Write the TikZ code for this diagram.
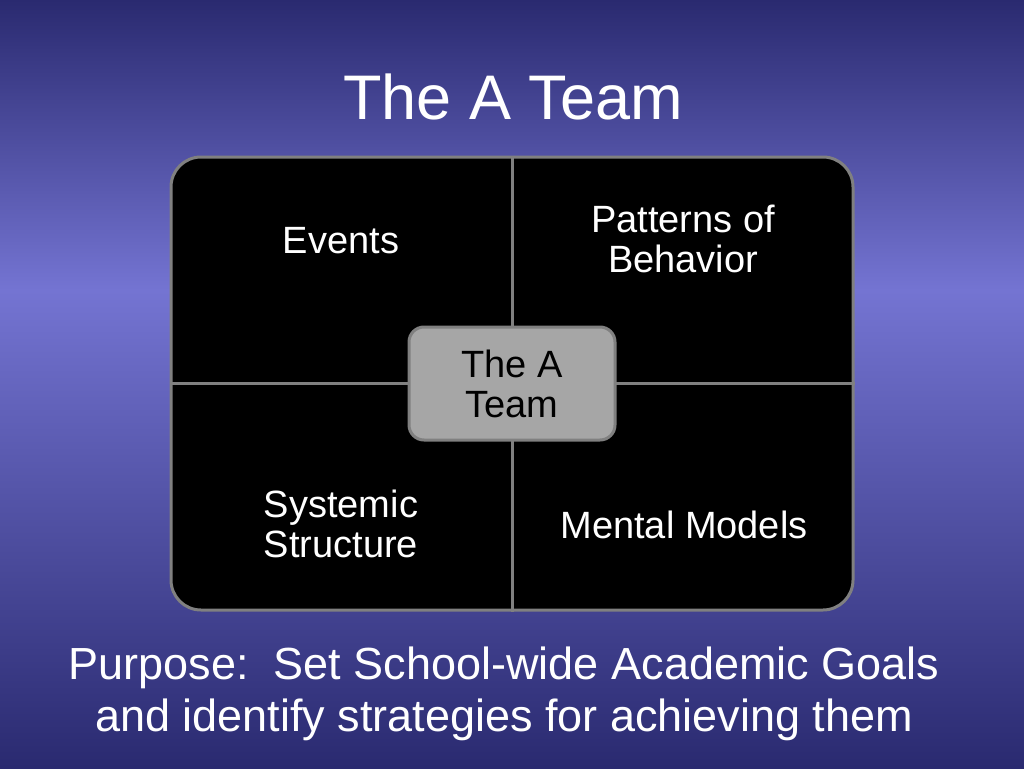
\documentclass[tikz,border=0pt]{standalone}
\usepackage{fontspec}
\setmainfont{Liberation Sans}
\definecolor{bgdark}{RGB}{42,42,112}
\definecolor{bglight}{RGB}{116,116,210}
\definecolor{edgegray}{RGB}{128,128,128}
\definecolor{boxgray}{RGB}{166,166,166}
\tikzset{
  quadtext/.style={text=white, align=center, inner sep=0pt, font=\fontsize{38}{40}\selectfont},
  grid line/.style={draw=edgegray, line width=3pt},
}
\begin{document}
\begin{tikzpicture}[x=1pt,y=-1pt]
\useasboundingbox (0,0) rectangle (1024,768);
\fill[top color=bgdark, bottom color=bglight] (0,0) rectangle (1024,290);
\fill[top color=bglight, bottom color=bgdark] (0,290) rectangle (1024,768);
% title
\node[text=white, inner sep=0pt, anchor=base, font=\fontsize{63}{70}\selectfont] (title) at (513,119) {The A Team};
% matrix
\node[fill=black, draw=edgegray, line width=3pt, rounded corners=30pt, minimum width=682pt, minimum height=453pt, inner sep=0pt] (mat) at (512,383.5) {};
\draw[grid line] (mat.north) -- (mat.south);
\draw[grid line] (mat.west) -- (mat.east);
\node[quadtext, anchor=base] (events) at (341,253) {Events};
\node[quadtext] (patterns) at (683,239) {Patterns of\\Behavior};
\node[quadtext] (systemic) at (341,524) {Systemic\\Structure};
\node[quadtext, anchor=base] (mental) at (684,538) {Mental Models};
\node[fill=boxgray, draw=edgegray, line width=3pt, rounded corners=15pt, minimum width=206pt, minimum height=113pt, inner sep=0pt, align=center, font=\fontsize{38}{40}\selectfont, text=black] (center) at (512,383.5) {The A\\Team};
% purpose
\node[text=white, align=center, inner sep=0pt, font=\fontsize{45}{52}\selectfont] (purpose) at (504,694) {Purpose:\ \ Set School-wide Academic Goals\\and identify strategies for achieving them};
\end{tikzpicture}
\end{document}
